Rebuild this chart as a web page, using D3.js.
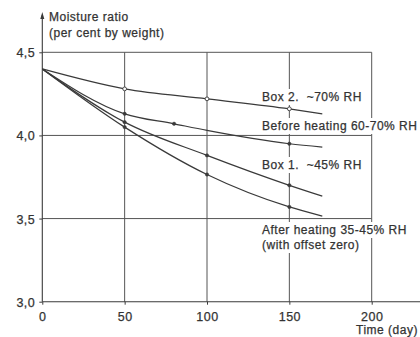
<!DOCTYPE html>
<html>
<head>
<meta charset="utf-8">
<script src="https://cdn.jsdelivr.net/npm/d3@7"></script>
<style>
  html, body { margin: 0; padding: 0; background: #fff; }
  svg { display: block; }
  text { font-family: "Liberation Sans", Arial, Helvetica, sans-serif; fill: #333; stroke: #333; stroke-width: 0.25; letter-spacing: 0.5px; white-space: pre; }
</style>
</head>
<body>
<svg id="chart" width="420" height="337"></svg>
<script>
// Storage time in days, with moisture ratio (per cent by weight) per condition.
const box2Days   = [0, 50, 100, 150, 170];
const box2Values = [4.40, 4.28, 4.22, 4.16, 4.13];
const box2Marked = [50, 100, 150];

const beforeDays   = [0, 50, 80, 100, 150, 170];
const beforeValues = [4.40, 4.13, 4.07, 4.03, 3.95, 3.93];
const beforeMarked = [50, 80, 150];

const box1Days   = [0, 50, 100, 150, 170];
const box1Values = [4.40, 4.08, 3.88, 3.70, 3.635];
const box1Marked = [50, 100, 150];

const afterDays   = [0, 50, 100, 150, 170];
const afterValues = [4.40, 4.05, 3.765, 3.57, 3.515];
const afterMarked = [50, 100, 150];

const xTicks = [0, 50, 100, 150, 200];
const xTickLabels = ["0", "50", "100", "150", "200"];
const yTicks = [3.0, 3.5, 4.0, 4.5];
const yTickLabels = ["3,0", "3,5", "4,0", "4,5"];

const svg = d3.select("#chart");
const x = d3.scaleLinear().domain([0, 200]).range([42.3, 371.7]);
const y = d3.scaleLinear().domain([3.0, 4.5]).range([301.7, 52.3]);

const ink = "#3a3a3a";
const fs = 12;

// Grid
const grid = svg.append("g").attr("stroke", "#555").attr("stroke-width", 1).attr("fill", "none");
yTicks.filter(v => v > 3).forEach(v => {
  grid.append("line").attr("x1", x(0)).attr("x2", x(200)).attr("y1", y(v)).attr("y2", y(v));
});
xTicks.filter(v => v > 0).forEach(v => {
  grid.append("line").attr("x1", x(v)).attr("x2", x(v)).attr("y1", y(4.5)).attr("y2", y(3.0));
});

// Axes
const xAxis = d3.axisBottom(x).tickValues(xTicks).tickSize(3).tickFormat((d, i) => xTickLabels[i]);
const yAxis = d3.axisLeft(y).tickValues(yTicks).tickSize(3).tickFormat((d, i) => yTickLabels[i]);

const gx = svg.append("g").attr("transform", `translate(0,${y(3.0)})`).call(xAxis);
gx.select(".domain").remove();
gx.selectAll(".tick line").attr("stroke", ink);
gx.selectAll(".tick text").attr("y", 10).attr("dy", "0.71em").attr("font-size", 12.5).attr("font-family", null);
gx.append("line").attr("x1", x(0)).attr("x2", 420).attr("y1", 0).attr("y2", 0).attr("stroke", ink).attr("stroke-width", 1.1);

const gy = svg.append("g").attr("transform", `translate(${x(0)},0)`).call(yAxis);
gy.select(".domain").remove();
gy.selectAll(".tick line").attr("stroke", ink);
gy.selectAll(".tick text").attr("x", -7).attr("dy", "0.36em").attr("font-size", 12.5).attr("font-family", null);
gy.append("line").attr("x1", 0).attr("x2", 0).attr("y1", y(3.0)).attr("y2", 15).attr("stroke", ink).attr("stroke-width", 1.1);
gy.append("path").attr("d", "M-2,19 L0,12 L2,19 Z").attr("fill", ink);

// Condition labels with a white ground that masks the grid behind them
const labels = [
  { t: "Box 2.  ~70% RH", x: 262, y: 101 },
  { t: "Before heating 60-70% RH", x: 262, y: 130 },
  { t: "Box 1.  ~45% RH", x: 262, y: 169 },
  { t: "After heating 35-45% RH", x: 262, y: 234 },
  { t: "(with offset zero)", x: 262, y: 249 }
];
const bgLayer = svg.append("g");
const curveLayer = svg.append("g");
const textLayer = svg.append("g");

labels.forEach(l => {
  const tx = textLayer.append("text").attr("x", l.x).attr("y", l.y).attr("font-size", fs).text(l.t);
  const b = tx.node().getBBox();
  bgLayer.append("rect").attr("x", b.x - 1).attr("y", b.y - 1).attr("width", b.width + 2).attr("height", b.height + 2).attr("fill", "#fff");
});

// Curves
const line = d3.line().x(d => x(d[0])).y(d => y(d[1])).curve(d3.curveMonotoneX);
function series(days, values, marked, hollow) {
  const pts = days.map((d, i) => [d, values[i]]);
  curveLayer.append("path").datum(pts).attr("d", line)
    .attr("fill", "none").attr("stroke", ink).attr("stroke-width", 1.2);
  curveLayer.selectAll(null).data(pts.filter(p => marked.includes(p[0]))).enter()
    .append("circle").attr("cx", d => x(d[0])).attr("cy", d => y(d[1]))
    .attr("r", hollow ? 1.9 : 1.7)
    .attr("fill", hollow ? "#fff" : ink).attr("stroke", ink).attr("stroke-width", hollow ? 0.9 : 0.5);
}
series(box2Days, box2Values, box2Marked, true);
series(beforeDays, beforeValues, beforeMarked, false);
series(box1Days, box1Values, box1Marked, false);
series(afterDays, afterValues, afterMarked, false);

// Axis titles
textLayer.append("text").attr("x", 49).attr("y", 21).attr("font-size", fs).text("Moisture ratio");
textLayer.append("text").attr("x", 49).attr("y", 37).attr("font-size", fs).text("(per cent by weight)");
textLayer.append("text").attr("x", 356).attr("y", 333.5).attr("font-size", fs).text("Time (day)");
</script>
</body>
</html>
